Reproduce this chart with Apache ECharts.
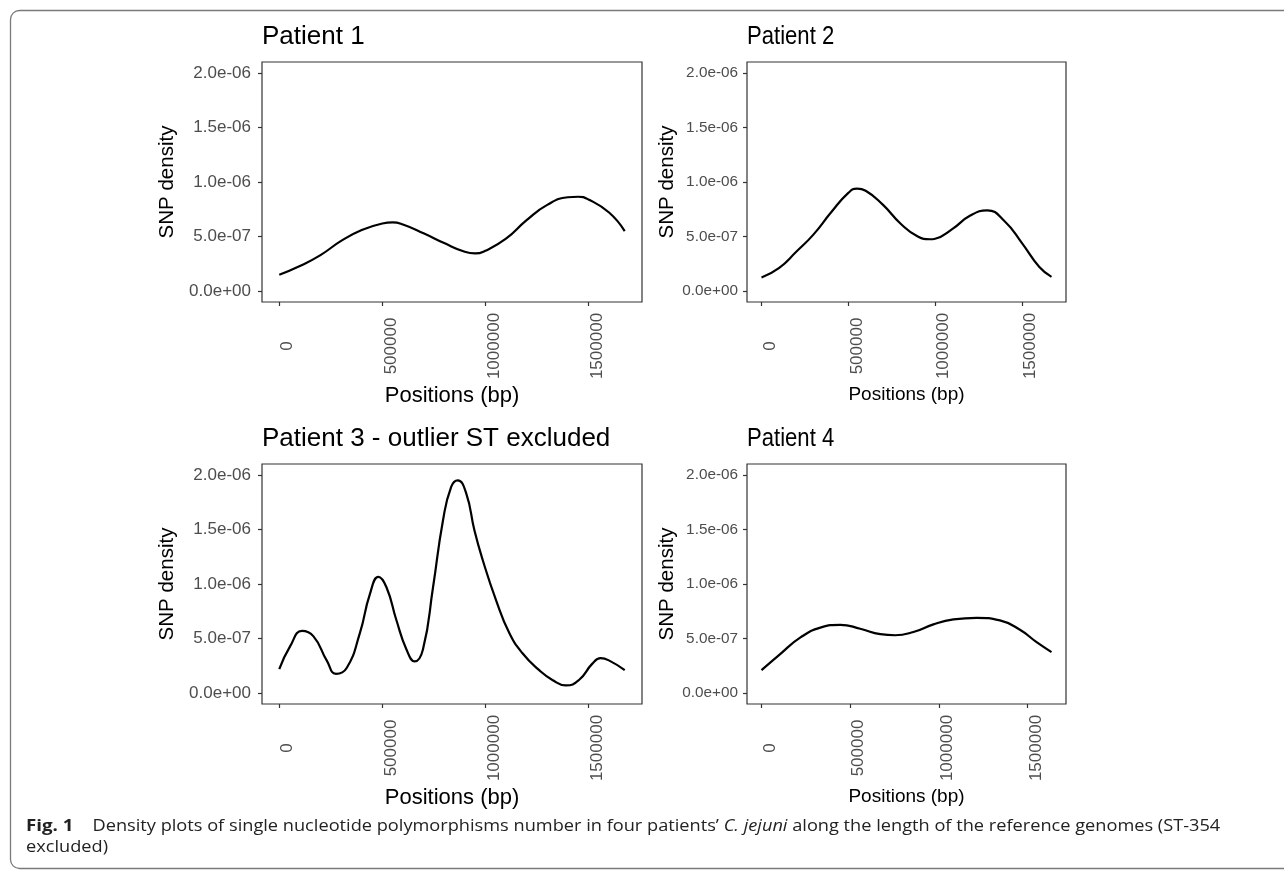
<!DOCTYPE html>
<html>
<head>
<meta charset="utf-8">
<style>
  html, body { margin: 0; padding: 0; background: #fff; }
  #chart { width: 1284px; height: 873px; }
</style>
<script src="https://cdn.jsdelivr.net/npm/echarts@6/dist/echarts.min.js"></script>
</head>
<body>
<div id="chart"></div>
<script>
// ---------------- DATA ----------------
const titles = ['Patient 1', 'Patient 2', 'Patient 3 - outlier ST excluded', 'Patient 4'];
const xTicks = [0, 500000, 1000000, 1500000];
const yTicks = [0, 5e-7, 1e-6, 1.5e-6, 2e-6];
const yLimit = 2e-6;

const p1Pos  = [0, 100000, 200000, 300000, 400000, 500000, 550000, 600000, 700000, 800000, 900000, 950000, 1000000, 1100000, 1200000, 1300000, 1400000, 1450000, 1500000, 1600000, 1676000];
const p1Dens = [0.15e-6, 0.23e-6, 0.33e-6, 0.46e-6, 0.56e-6, 0.62e-6, 0.63e-6, 0.61e-6, 0.53e-6, 0.44e-6, 0.36e-6, 0.345e-6, 0.37e-6, 0.48e-6, 0.65e-6, 0.79e-6, 0.86e-6, 0.865e-6, 0.84e-6, 0.72e-6, 0.55e-6];

const p2Pos  = [0, 100000, 200000, 300000, 400000, 500000, 550000, 600000, 700000, 800000, 900000, 970000, 1000000, 1100000, 1200000, 1300000, 1400000, 1500000, 1600000, 1670000];
const p2Dens = [0.125e-6, 0.21e-6, 0.36e-6, 0.52e-6, 0.72e-6, 0.90e-6, 0.94e-6, 0.92e-6, 0.79e-6, 0.62e-6, 0.50e-6, 0.475e-6, 0.48e-6, 0.57e-6, 0.69e-6, 0.74e-6, 0.64e-6, 0.44e-6, 0.22e-6, 0.13e-6];

const p3Pos  = [0, 53000, 110000, 166000, 230000, 275000, 327000, 391000, 440000, 481000, 520000, 568000, 617000, 657000, 697000, 746000, 794000, 834000, 866000, 907000, 947000, 987000, 1052000, 1116000, 1180000, 1261000, 1325000, 1390000, 1454000, 1519000, 1559000, 1599000, 1676000];
const p3Dens = [0.22e-6, 0.43e-6, 0.57e-6, 0.52e-6, 0.30e-6, 0.177e-6, 0.23e-6, 0.55e-6, 0.91e-6, 1.065e-6, 0.97e-6, 0.67e-6, 0.40e-6, 0.29e-6, 0.40e-6, 0.97e-6, 1.58e-6, 1.89e-6, 1.95e-6, 1.83e-6, 1.49e-6, 1.22e-6, 0.85e-6, 0.55e-6, 0.365e-6, 0.21e-6, 0.12e-6, 0.07e-6, 0.12e-6, 0.27e-6, 0.32e-6, 0.30e-6, 0.21e-6];

const p4Pos  = [0, 107000, 220000, 332000, 445000, 557000, 670000, 754000, 857000, 970000, 1083000, 1214000, 1345000, 1458000, 1552000, 1636000];
const p4Dens = [0.21e-6, 0.36e-6, 0.51e-6, 0.60e-6, 0.626e-6, 0.59e-6, 0.54e-6, 0.53e-6, 0.56e-6, 0.63e-6, 0.675e-6, 0.69e-6, 0.666e-6, 0.58e-6, 0.467e-6, 0.376e-6];

const positions = [p1Pos, p2Pos, p3Pos, p4Pos];
const densities = [p1Dens, p2Dens, p3Dens, p4Dens];

const xAxisName = 'Positions (bp)';
const yAxisName = 'SNP density';
const captionBold = 'Fig. 1';
const captionA = 'Density plots of single nucleotide polymorphisms number in four patients\u2019 ';
const captionItalic = 'C. jejuni';
const captionB = ' along the length of the reference genomes (ST-354';
const captionLine2 = 'excluded)';

// ---------------- LAYOUT / STYLE ----------------
const FONT = "'Liberation Sans', Arial, Helvetica, sans-serif";
const CAPFONT = "'Open Sans', 'Noto Sans', sans-serif";
const CAPSIZE = 16;
const CAPSCALE = 1.137;
const layout = [
  { left: 262, top: 62,  width: 380, height: 240, tx: 262, ty: 36.5, sx: 1.0,  yLab: 17,   yMargin: 11, xName: 22, yGap: 84, xGap: 83 },
  { left: 747, top: 62,  width: 319, height: 240, tx: 747, ty: 36.5, sx: 0.85, yLab: 15.3, yMargin: 9,  xName: 19, yGap: 69, xGap: 83 },
  { left: 262, top: 464, width: 380, height: 240, tx: 262, ty: 439,  sx: 1.0,  yLab: 17,   yMargin: 11, xName: 22, yGap: 84, xGap: 83 },
  { left: 747, top: 464, width: 319, height: 240, tx: 747, ty: 439,  sx: 0.85, yLab: 15.3, yMargin: 9,  xName: 19, yGap: 69, xGap: 83 }
];

function fmtSci(v) {
  return v.toExponential(1).replace(/e([+-])(\d)$/, 'e$10$2');
}

const grids = [], xAxes = [], yAxes = [], series = [], graphics = [];
layout.forEach(function (L, i) {
  grids.push({ left: L.left, top: L.top, width: L.width, height: L.height,
    show: true, borderColor: '#333333', borderWidth: 1.2, backgroundColor: '#fff',
    containLabel: false, outerBoundsMode: 'none' });
  const pos = positions[i];
  const xMax = pos[pos.length - 1];
  xAxes.push({
    type: 'value', gridIndex: i,
    min: -0.05 * xMax, max: 1.05 * xMax,
    axisLine: { show: false, onZero: false },
    axisTick: { show: true, length: 4, customValues: xTicks, lineStyle: { color: '#333333', width: 1.2 } },
    axisLabel: { customValues: xTicks, rotate: 90, align: 'center', verticalAlign: 'top', margin: 44,
      fontFamily: FONT, fontSize: 17, color: '#4d4d4d', formatter: function (v) { return String(v); } },
    splitLine: { show: false },
    name: xAxisName, nameLocation: 'middle', nameGap: L.xGap,
    nameTextStyle: { fontFamily: FONT, fontSize: L.xName, color: '#000' }
  });
  yAxes.push({
    type: 'value', gridIndex: i,
    min: -0.05 * yLimit, max: 1.05 * yLimit,
    axisLine: { show: false, onZero: false },
    axisTick: { show: true, length: 4, customValues: yTicks, lineStyle: { color: '#333333', width: 1.2 } },
    axisLabel: { customValues: yTicks, margin: L.yMargin, fontFamily: FONT, fontSize: L.yLab, color: '#4d4d4d', formatter: fmtSci },
    splitLine: { show: false },
    name: yAxisName, nameLocation: 'middle', nameGap: L.yGap,
    nameTextStyle: { fontFamily: FONT, fontSize: 20.5, color: '#000' }
  });
  series.push({
    type: 'line', xAxisIndex: i, yAxisIndex: i,
    data: pos.map(function (x, k) { return [x, densities[i][k]]; }),
    showSymbol: false, smooth: 0.5,
    lineStyle: { color: '#000', width: 2.2 }, silent: true
  });
  graphics.push({ type: 'text', x: L.tx, y: L.ty, scaleX: L.sx, originX: 0, originY: 0,
    style: { text: titles[i], font: '26px ' + FONT, fill: '#000', verticalAlign: 'middle', align: 'left' } });
});

graphics.push({ type: 'rect', shape: { x: 10.5, y: 10.5, width: 1320, height: 858, r: 9 },
  style: { fill: 'none', stroke: '#7a7a7a', lineWidth: 1.3 }, silent: true });
graphics.push({ type: 'text', x: 26, y: 826, scaleX: CAPSCALE, originX: 0, originY: 0,
  style: { text: '{b|' + captionBold + '}    ' + captionA + '{i|' + captionItalic + '}' + captionB,
    font: CAPSIZE + 'px ' + CAPFONT, fill: '#222', verticalAlign: 'middle',
    rich: { b: { fontWeight: 'bold', fontFamily: CAPFONT, fontSize: CAPSIZE + 0.5, fill: '#222' },
            i: { fontStyle: 'italic', fontFamily: CAPFONT, fontSize: CAPSIZE, fill: '#222' } } } });
graphics.push({ type: 'text', x: 26, y: 847, scaleX: CAPSCALE, originX: 0, originY: 0,
  style: { text: captionLine2, font: CAPSIZE + 'px ' + CAPFONT, fill: '#222', verticalAlign: 'middle' } });

const chart = echarts.init(document.getElementById('chart'), null, { renderer: 'canvas' });
chart.setOption({
  backgroundColor: '#fff',
  animation: false,
  grid: grids, xAxis: xAxes, yAxis: yAxes, series: series,
  graphic: graphics
});
</script>
</body>
</html>
